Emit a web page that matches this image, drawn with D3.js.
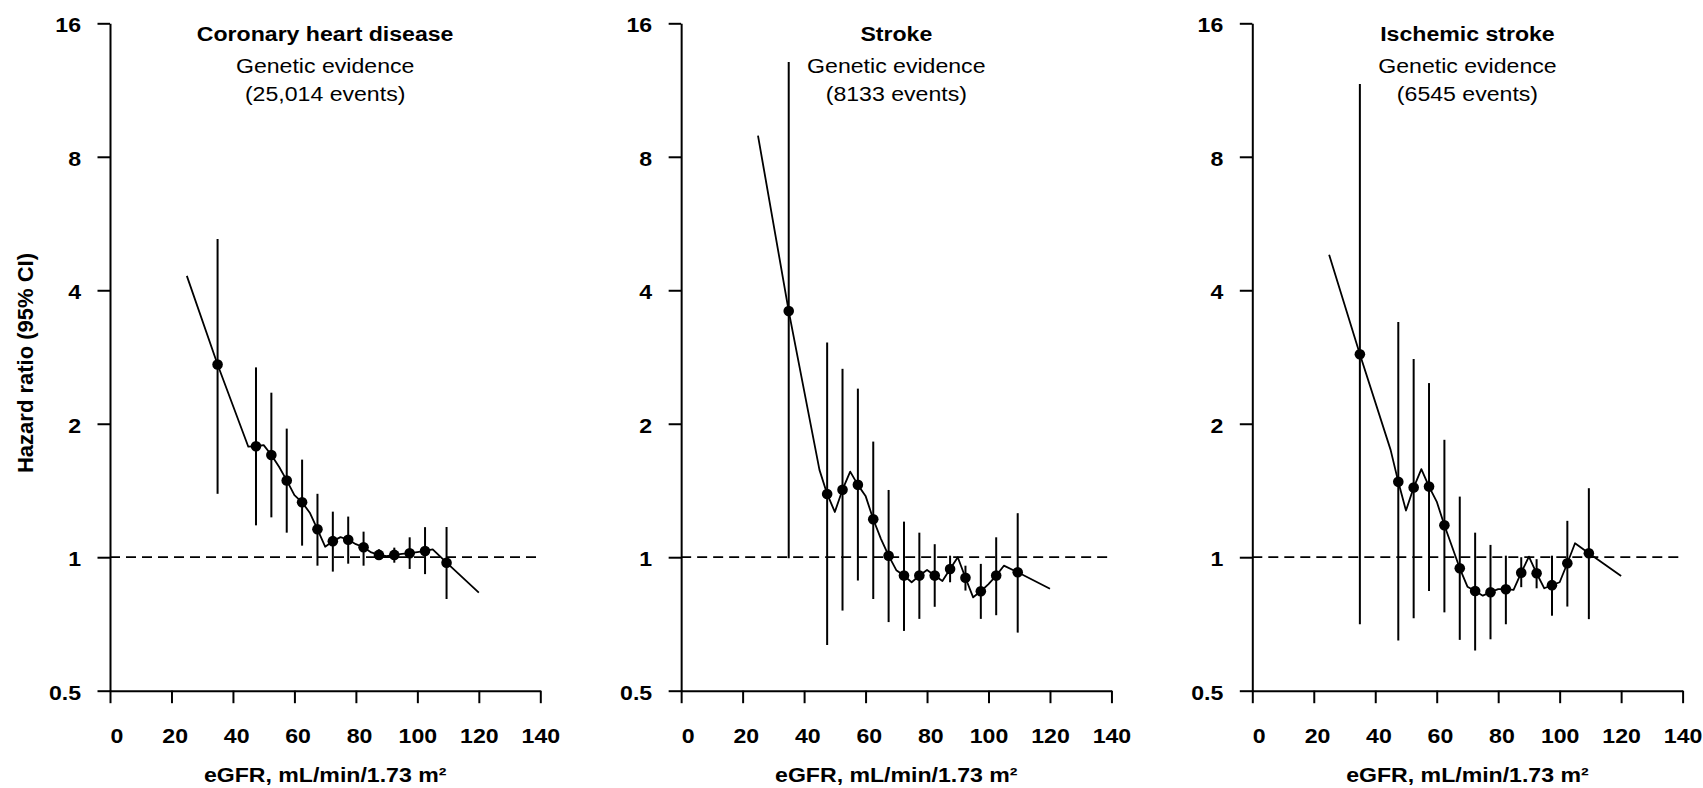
<!DOCTYPE html>
<html>
<head>
<meta charset="utf-8">
<script src="https://cdn.jsdelivr.net/npm/d3@7/dist/d3.min.js"></script>
<style>
  html, body { margin: 0; padding: 0; background: #fff; }
  svg { display: block; }
  text { font-family: "Liberation Sans", Arial, sans-serif; fill: #000; }
</style>
</head>
<body>
<svg id="chart" width="1703" height="788"></svg>
<script>
// ---------------- data ----------------
const panelTitles = ["Coronary heart disease", "Stroke", "Ischemic stroke"];
const panelSubtitles = ["Genetic evidence", "Genetic evidence", "Genetic evidence"];
const panelEvents = ["(25,014 events)", "(8133 events)", "(6545 events)"];

const xTicks = [0, 20, 40, 60, 80, 100, 120, 140];
const yTicks = [0.5, 1, 2, 4, 8, 16];
const yTickLabels = ["0.5", "1", "2", "4", "8", "16"];
const xLabel = "eGFR, mL/min/1.73 m\u00B2";
const yLabel = "Hazard ratio (95% CI)";

// eGFR group midpoints (dots with CI)
const pointX = [35, 47.5, 52.5, 57.5, 62.5, 67.5, 72.5, 77.5, 82.5, 87.5, 92.5, 97.5, 102.5, 109.5];

const chdHR = [2.72, 1.78, 1.70, 1.49, 1.33, 1.156, 1.087, 1.095, 1.053, 1.012, 1.012, 1.021, 1.033, 0.972];
const chdLo = [1.39, 1.18, 1.23, 1.136, 1.062, 0.957, 0.928, 0.967, 0.957, 0.986, 0.972, 0.941, 0.916, 0.805];
const chdHi = [5.22, 2.68, 2.35, 1.95, 1.66, 1.39, 1.267, 1.235, 1.142, 1.042, 1.051, 1.109, 1.169, 1.17];

const strokeHR = [3.59, 1.389, 1.42, 1.456, 1.218, 1.008, 0.909, 0.909, 0.909, 0.941, 0.899, 0.838, 0.909, 0.925];
const strokeLo = [0.995, 0.634, 0.758, 0.886, 0.805, 0.714, 0.682, 0.726, 0.773, 0.878, 0.841, 0.726, 0.74, 0.676];
const strokeHi = [13.08, 3.05, 2.66, 2.40, 1.823, 1.418, 1.203, 1.136, 1.07, 1.008, 0.957, 0.966, 1.109, 1.257];

const ischHR = [2.87, 1.479, 1.436, 1.443, 1.181, 0.944, 0.839, 0.834, 0.847, 0.923, 0.92, 0.865, 0.969, 1.021];
const ischLo = [0.706, 0.649, 0.728, 0.839, 0.751, 0.651, 0.616, 0.653, 0.706, 0.856, 0.851, 0.738, 0.774, 0.725];
const ischHi = [11.67, 3.39, 2.80, 2.47, 1.84, 1.37, 1.136, 1.066, 1.008, 1.0, 0.99, 1.008, 1.208, 1.431];

// fitted curve vertices
const curveX = [25, 35, 45, 47.5, 50, 52.5, 55, 57.5, 60, 62.5, 65, 67.5, 70, 72.5, 75, 77.5, 80, 82.5, 85, 87.5, 90, 92.5, 95, 97.5, 100, 102.5, 105, 109.5, 120];
const chdCurve = [4.31, 2.72, 1.775, 1.78, 1.79, 1.70, 1.60, 1.49, 1.38, 1.33, 1.26, 1.156, 1.056, 1.087, 1.11, 1.095, 1.07, 1.053, 1.025, 1.012, 1.005, 1.012, 1.018, 1.021, 1.027, 1.033, 1.042, 0.972, 0.832];
const strokeCurve = [8.93, 3.59, 1.574, 1.389, 1.265, 1.42, 1.56, 1.456, 1.375, 1.218, 1.10, 1.008, 0.935, 0.909, 0.878, 0.909, 0.936, 0.909, 0.884, 0.941, 1.0, 0.899, 0.812, 0.838, 0.87, 0.909, 0.957, 0.925, 0.849];
const ischCurve = [4.81, 2.87, 1.746, 1.479, 1.274, 1.436, 1.58, 1.443, 1.335, 1.181, 1.056, 0.944, 0.858, 0.839, 0.819, 0.834, 0.847, 0.847, 0.844, 0.923, 1.003, 0.92, 0.851, 0.865, 0.878, 0.969, 1.075, 1.021, 0.907];

const seriesHR = [chdHR, strokeHR, ischHR];
const seriesLo = [chdLo, strokeLo, ischLo];
const seriesHi = [chdHi, strokeHi, ischHi];
const seriesCurve = [chdCurve, strokeCurve, ischCurve];

// ---------------- layout ----------------
const svg = d3.select("#chart");
const firstLeft = 110, panelStep = 571.15, plotW = 430.3;
const plotTop = 23.3, plotBottom = 690.7;
const FS = 21, SX = 1.1;

const y = d3.scaleLog().base(2).domain([0.5, 16]).range([plotBottom, plotTop]);

panelTitles.forEach((title, p) => {
  const left = firstLeft + p * panelStep;
  const x = d3.scaleLinear().domain([0, 140]).range([left, left + plotW]);
  const cx = left + plotW / 2;
  const g = svg.append("g");

  // reference line at HR = 1
  g.append("line")
    .attr("x1", x(0)).attr("x2", x(140))
    .attr("y1", y(1)).attr("y2", y(1))
    .attr("stroke", "#000").attr("stroke-width", 1.7)
    .attr("stroke-dasharray", "10,6");

  // y axis
  const ya = g.append("g").attr("transform", `translate(${x(0)},0)`)
    .call(d3.axisLeft(y).tickValues(yTicks).tickSize(12.5).tickSizeOuter(0)
      .tickFormat((d, i) => yTickLabels[i]));
  ya.select(".domain").attr("stroke", "#000").attr("stroke-width", 2);
  ya.selectAll(".tick line").attr("stroke", "#000").attr("stroke-width", 2);
  ya.selectAll(".tick text")
    .attr("x", null).attr("dy", null)
    .attr("transform", `translate(-29,8.5) scale(${SX},1)`)
    .attr("text-anchor", "end")
    .style("font-size", FS + "px").style("font-weight", "bold")
    .style("font-family", '"Liberation Sans", Arial, sans-serif').attr("fill", "#000");

  // x axis
  const xa = g.append("g").attr("transform", `translate(0,${plotBottom})`)
    .call(d3.axisBottom(x).tickValues(xTicks).tickSize(12.5).tickSizeOuter(0));
  xa.select(".domain").attr("stroke", "#000").attr("stroke-width", 2);
  xa.selectAll(".tick line").attr("stroke", "#000").attr("stroke-width", 2);
  xa.selectAll(".tick text")
    .attr("y", 0).attr("dy", null)
    .attr("transform", `translate(0,51.8) scale(${SX},1)`)
    .attr("dx", d => ((3 - String(d).length) * 0.139) + "em")
    .attr("text-anchor", "middle")
    .style("font-size", FS + "px").style("font-weight", "bold")
    .style("font-family", '"Liberation Sans", Arial, sans-serif').attr("fill", "#000");

  // x label
  g.append("text")
    .attr("transform", `translate(${cx},781.5) scale(${SX},1)`)
    .attr("text-anchor", "middle")
    .style("font-size", FS + "px").style("font-weight", "bold")
    .text(xLabel);

  // titles
  g.append("text")
    .attr("transform", `translate(${cx},41) scale(${SX},1)`)
    .attr("text-anchor", "middle")
    .style("font-size", FS + "px").style("font-weight", "bold")
    .text(title);
  g.append("text")
    .attr("transform", `translate(${cx},73) scale(${SX},1)`)
    .attr("text-anchor", "middle")
    .style("font-size", FS + "px")
    .text(panelSubtitles[p]);
  g.append("text")
    .attr("transform", `translate(${cx},101) scale(${SX},1)`)
    .attr("text-anchor", "middle")
    .style("font-size", FS + "px")
    .text(panelEvents[p]);

  // curve
  const curveData = curveX.map((v, i) => [v, seriesCurve[p][i]]);
  g.append("path")
    .datum(curveData)
    .attr("fill", "none").attr("stroke", "#000").attr("stroke-width", 1.8)
    .attr("stroke-linejoin", "round")
    .attr("d", d3.line().x(d => x(d[0])).y(d => y(d[1])));

  // error bars
  const pts = pointX.map((v, i) => ({ x: v, hr: seriesHR[p][i], lo: seriesLo[p][i], hi: seriesHi[p][i] }));
  g.selectAll("line.ci").data(pts).enter().append("line")
    .attr("class", "ci")
    .attr("x1", d => x(d.x)).attr("x2", d => x(d.x))
    .attr("y1", d => y(d.lo)).attr("y2", d => y(d.hi))
    .attr("stroke", "#000").attr("stroke-width", 2);

  // dots
  g.selectAll("circle.pt").data(pts).enter().append("circle")
    .attr("class", "pt")
    .attr("cx", d => x(d.x)).attr("cy", d => y(d.hr))
    .attr("r", 5.3).attr("fill", "#000");
});

// y axis label (first panel only)
svg.append("text")
  .attr("transform", `translate(33,363) rotate(-90)`)
  .attr("text-anchor", "middle")
  .style("font-size", "22px").style("font-weight", "bold")
  .text(yLabel);
</script>
</body>
</html>
